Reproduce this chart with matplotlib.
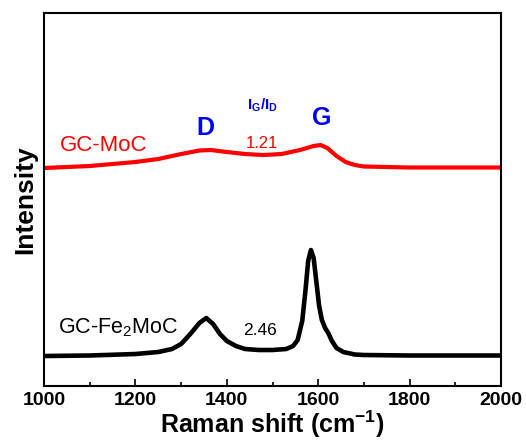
import matplotlib
matplotlib.use("Agg")
import matplotlib.pyplot as plt
from matplotlib.ticker import MultipleLocator

plt.rcParams['font.family'] = ['Liberation Sans', 'DejaVu Sans']
plt.rcParams['mathtext.fontset'] = 'custom'
plt.rcParams['mathtext.rm'] = 'Liberation Sans'
plt.rcParams['mathtext.bf'] = 'Liberation Sans:bold'

# GC-Fe2MoC spectrum (black)
fe_shift = [1000, 1100, 1200, 1250, 1280, 1300, 1320, 1340, 1355, 1370, 1385,
            1400, 1420, 1440, 1470, 1500, 1530, 1545, 1555, 1565, 1572, 1578,
            1584, 1590, 1596, 1602, 1608, 1615, 1622, 1630, 1640, 1655, 1680,
            1700, 1800, 1900, 2000]
fe_int = [30, 30.5, 32, 34, 37, 42, 52, 63, 68, 62, 52,
          45, 40, 37, 36, 36, 37, 40, 46, 65, 95, 125,
          136, 128, 104, 80, 66, 58, 53, 45, 38, 34, 31.5,
          31, 30.5, 30.5, 30.5]

# GC-MoC spectrum (red)
mo_shift = [1000, 1100, 1200, 1250, 1300, 1340, 1365, 1400, 1440, 1480, 1520,
            1560, 1590, 1605, 1620, 1640, 1660, 1680, 1700, 1800, 2000]
mo_int = [218, 220, 224, 227, 232, 235.5, 236, 234, 232, 231, 232,
          236, 240, 241, 238, 230, 224, 221, 219.5, 218.5, 218.5]

fig = plt.figure(figsize=(5.26, 4.41), dpi=100)
ax = fig.add_axes([0.0837, 0.1247, 0.8688, 0.8458])

ax.plot(mo_shift, mo_int, color='#ff0000', lw=3)
ax.plot(fe_shift, fe_int, color='black', lw=3.3)

ax.set_xlim(1000, 2000)
ax.set_ylim(0, 373)
ax.set_yticks([])
ax.xaxis.set_major_locator(MultipleLocator(200))
ax.xaxis.set_minor_locator(MultipleLocator(100))
ax.tick_params(axis='x', which='major', direction='in', length=5, width=1.2,
               labelsize=14, pad=4)
ax.tick_params(axis='x', which='minor', direction='in', length=3, width=1.2)
for lab in ax.get_xticklabels():
    lab.set_fontweight('bold')
for sp in ax.spines.values():
    sp.set_linewidth(1.5)

ax.set_xlabel('Raman shift (cm$^{\\mathbf{-1}}$)', fontsize=18, fontweight='bold', labelpad=0)
ax.set_ylabel('Intensity', fontsize=19, fontweight='bold', labelpad=5)

ax.text(1035, 241, 'GC-MoC', color='#ff0000', fontsize=16, va='center', ha='left')
ax.text(1352, 258, 'D', color='#0000ff', fontsize=18, fontweight='bold', ha='center', va='center')
ax.text(1608, 268, 'G', color='#0000ff', fontsize=18, fontweight='bold', ha='center', va='center')
ax.text(1477, 281, r'$\mathbf{I_G/I_D}$', color='#0000ff', fontsize=11, ha='center', va='center')
ax.text(1477, 243, '1.21', color='#ff0000', fontsize=12, ha='center', va='center')
ax.text(1030, 58, 'GC-Fe$_2$MoC', color='black', fontsize=15.5, ha='left', va='center')
ax.text(1473, 56, '2.46', color='black', fontsize=12.5, ha='center', va='center')

fig.savefig('out.png', dpi=100)
